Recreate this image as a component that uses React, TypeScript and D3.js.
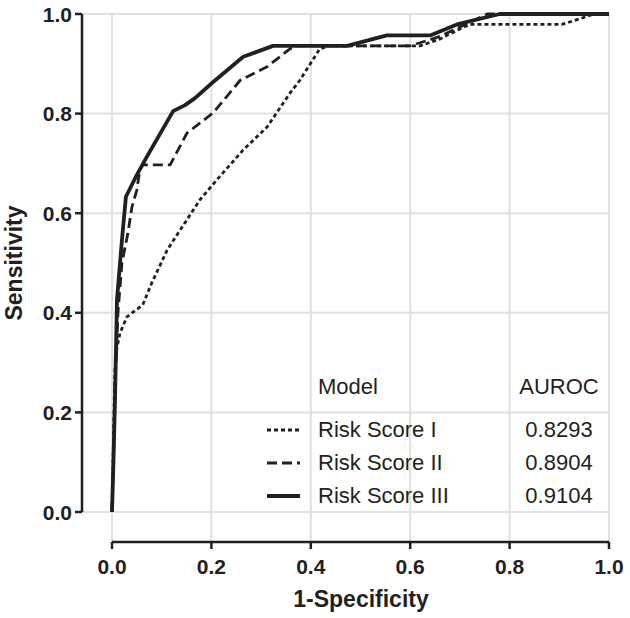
import React from "react";
import * as d3 from "d3";

const xTicks = [0, 0.2, 0.4, 0.6, 0.8, 1.0];
const yTicks = [0, 0.2, 0.4, 0.6, 0.8, 1.0];

const riskScoreI: [number, number][] = [
  [0, 0], [0.003, 0.15], [0.006, 0.29], [0.01, 0.33], [0.016, 0.359], [0.03, 0.392],
  [0.062, 0.416], [0.08, 0.46], [0.111, 0.526], [0.137, 0.566], [0.177, 0.627],
  [0.211, 0.667], [0.264, 0.727], [0.312, 0.773], [0.358, 0.841], [0.378, 0.867],
  [0.418, 0.93], [0.436, 0.936], [0.62, 0.936], [0.66, 0.95], [0.70, 0.97],
  [0.72, 0.979], [0.905, 0.979], [0.94, 0.99], [0.97, 1.0], [1, 1],
];
const riskScoreII: [number, number][] = [
  [0, 0], [0.003, 0.1], [0.006, 0.25], [0.012, 0.4], [0.02, 0.5], [0.032, 0.56],
  [0.04, 0.612], [0.05, 0.647], [0.056, 0.687], [0.062, 0.697], [0.117, 0.697],
  [0.151, 0.761], [0.203, 0.801], [0.258, 0.867], [0.312, 0.894], [0.358, 0.93],
  [0.37, 0.936], [0.60, 0.936], [0.66, 0.955], [0.70, 0.974], [0.755, 1.0], [1, 1],
];
const riskScoreIII: [number, number][] = [
  [0, 0], [0.003, 0.104], [0.006, 0.225], [0.01, 0.426], [0.02, 0.546], [0.028, 0.633],
  [0.05, 0.677], [0.07, 0.713], [0.123, 0.805], [0.147, 0.817], [0.167, 0.831],
  [0.203, 0.863], [0.264, 0.914], [0.324, 0.936], [0.473, 0.936], [0.553, 0.957],
  [0.64, 0.957], [0.694, 0.979], [0.78, 1.0], [1, 1],
];

const models = ["Risk Score I", "Risk Score II", "Risk Score III"];
const aurocs = ["0.8293", "0.8904", "0.9104"];
const seriesData = [riskScoreI, riskScoreII, riskScoreIII];

const INK = "#231f20";
const GRID = "#e0e0e0";
const styles = [
  { width: 2.8, dash: "4,3" },
  { width: 2.8, dash: "10,5" },
  { width: 3.8, dash: "none" },
];

export default function App() {
  const x = d3.scaleLinear().domain([0, 1]).range([112, 609]);
  const y = d3.scaleLinear().domain([0, 1]).range([512, 14]);
  const line = d3.line<[number, number]>().x((d) => x(d[0])).y((d) => y(d[1]));
  const axisX = 82;
  const axisY = 542;
  const font = "'Liberation Sans', Arial, Helvetica, sans-serif";

  return (
    <svg width={630} height={618} style={{ position: "absolute", left: 0, top: 0, background: "#fff" }} fontFamily={font}>
      <rect width={630} height={618} fill="#fff" />
      {xTicks.map((t) => (
        <line key={"gx" + t} x1={x(t)} x2={x(t)} y1={14} y2={axisY} stroke={GRID} strokeWidth={2} />
      ))}
      {yTicks.map((t) => (
        <line key={"gy" + t} x1={axisX} x2={609} y1={y(t)} y2={y(t)} stroke={GRID} strokeWidth={2} />
      ))}
      <line x1={axisX} x2={axisX} y1={y(1)} y2={y(0)} stroke={INK} strokeWidth={2.5} />
      {yTicks.map((t) => (
        <g key={"ty" + t}>
          <line x1={axisX - 7} x2={axisX} y1={y(t)} y2={y(t)} stroke={INK} strokeWidth={2.5} />
          <text x={72} y={y(t) + 7.5} textAnchor="end" fontSize={21} fontWeight="bold" fill={INK}>
            {t.toFixed(1)}
          </text>
        </g>
      ))}
      <line x1={x(0)} x2={x(1)} y1={axisY} y2={axisY} stroke={INK} strokeWidth={2.5} />
      {xTicks.map((t) => (
        <g key={"tx" + t}>
          <line x1={x(t)} x2={x(t)} y1={axisY} y2={axisY + 7} stroke={INK} strokeWidth={2.5} />
          <text x={x(t)} y={574} textAnchor="middle" fontSize={21} fontWeight="bold" fill={INK}>
            {t.toFixed(1)}
          </text>
        </g>
      ))}
      <text x={361} y={607} textAnchor="middle" fontSize={23} fontWeight="bold" fill={INK}>
        1-Specificity
      </text>
      <text transform="translate(22,263) rotate(-90)" textAnchor="middle" fontSize={23} fontWeight="bold" fill={INK}>
        Sensitivity
      </text>
      {seriesData.map((s, i) => (
        <path key={"s" + i} d={line(s) || ""} fill="none" stroke={INK} strokeWidth={styles[i].width}
          strokeDasharray={styles[i].dash} strokeLinejoin="round" />
      ))}
      <text x={318} y={394} fontSize={22} fill={INK}>Model</text>
      <text x={559} y={394} fontSize={22} fill={INK} textAnchor="middle">AUROC</text>
      {models.map((m, i) => {
        const by = 437 + i * 33;
        return (
          <g key={"lg" + i}>
            <line x1={267} x2={300} y1={by - 7} y2={by - 7} stroke={INK} strokeWidth={styles[i].width}
              strokeDasharray={styles[i].dash} />
            <text x={318} y={by} fontSize={22} fill={INK}>{m}</text>
            <text x={559} y={by} fontSize={22} fill={INK} textAnchor="middle">{aurocs[i]}</text>
          </g>
        );
      })}
    </svg>
  );
}
